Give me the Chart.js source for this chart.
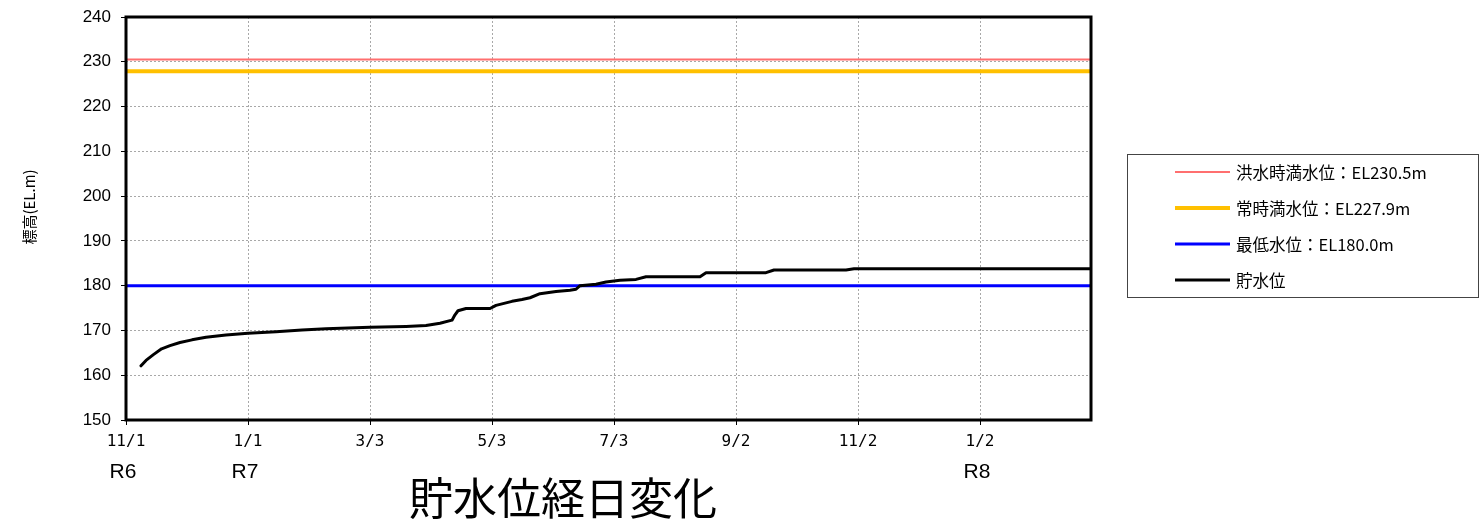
<!DOCTYPE html>
<html>
<head>
<meta charset="utf-8">
<script src="https://cdn.jsdelivr.net/npm/chart.js@4/dist/chart.umd.min.js"></script>
<style>
html,body{margin:0;padding:0;background:#fff;}
#wrap{width:1483px;height:523px;position:relative;}
</style>
</head>
<body>
<div id="wrap"><canvas id="c" width="1483" height="523"></canvas></div>
<script>
// ---- data ----
const chartTitle = '貯水位経日変化';
const yAxisTitle = '標高(EL.m)';
const tickDays = [0, 61, 122, 183, 244, 305, 366, 427];
const tickLabels = ['11/1', '1/1', '3/3', '5/3', '7/3', '9/2', '11/2', '1/2'];
const eraLabels = ['R6', 'R7', '', '', '', '', '', 'R8'];
const xMaxDay = 482.5;
const yTicksMin = 150, yTicksMax = 240, yStep = 10;

const seriesNames = ['洪水時満水位：EL230.5m', '常時満水位：EL227.9m', '最低水位：EL180.0m', '貯水位'];
const floodLevel = 230.5;
const normalLevel = 227.9;
const minLevel = 180.0;

const storageDays = [7.5, 10, 13.7, 17.8, 22, 27, 33, 40, 50, 61, 75, 88, 100, 122, 140, 150, 157, 163, 164.5, 166, 170, 182, 185, 193, 198, 202, 207, 215, 222, 225, 227, 235, 240, 247, 255, 260, 287, 290, 320, 324, 360, 364, 482.5];
const storageLevels = [162.1, 163.3, 164.6, 165.9, 166.6, 167.3, 167.9, 168.5, 169.0, 169.4, 169.7, 170.1, 170.4, 170.7, 170.9, 171.1, 171.6, 172.3, 173.5, 174.4, 174.9, 174.9, 175.6, 176.5, 176.9, 177.3, 178.2, 178.7, 179.0, 179.2, 180.0, 180.3, 180.8, 181.2, 181.4, 182.0, 182.0, 182.9, 182.9, 183.5, 183.5, 183.8, 183.8];

// ---- styles ----
const colors = ['#ff6f6f', '#ffc000', '#0000ff', '#000000'];
const widths = [2, 4, 3, 3];

function flat(v) { return [{x: 0, y: v}, {x: xMaxDay, y: v}]; }
const storagePts = storageDays.map((d, i) => ({x: d, y: storageLevels[i]}));

const extrasPlugin = {
  id: 'extras',
  afterDatasetsDraw(chart) {
    const ctx = chart.ctx, a = chart.chartArea;
    ctx.save();
    ctx.strokeStyle = '#000';
    ctx.lineWidth = 3;
    ctx.strokeRect(a.left, a.top, a.right - a.left, a.bottom - a.top);
    ctx.restore();
  },
  afterDraw(chart) {
    const ctx = chart.ctx;
    const xs = chart.scales.x;
    ctx.save();
    // era labels
    ctx.fillStyle = '#000';
    ctx.font = '21px "Liberation Sans", Arial, sans-serif';
    ctx.textAlign = 'center';
    ctx.textBaseline = 'middle';
    tickDays.forEach((d, i) => {
      if (eraLabels[i]) ctx.fillText(eraLabels[i], xs.getPixelForValue(d) - 3, 472);
    });
    // chart title
    ctx.font = '44px "Noto Sans CJK JP", sans-serif';
    ctx.fillText(chartTitle, 563, 498);
    // y axis title
    ctx.save();
    ctx.translate(29, 207);
    ctx.rotate(-Math.PI / 2);
    ctx.font = '15px "Noto Sans CJK JP", sans-serif';
    ctx.fillText(yAxisTitle, 0, 0);
    ctx.restore();
    // legend
    ctx.strokeStyle = '#444';
    ctx.lineWidth = 1;
    ctx.strokeRect(1127.5, 154.5, 351, 143);
    const rows = [172, 208, 244, 280];
    ctx.textAlign = 'left';
    ctx.font = '16.5px "Noto Sans CJK JP", sans-serif';
    seriesNames.forEach((n, i) => {
      ctx.strokeStyle = colors[i];
      ctx.lineWidth = widths[i];
      ctx.beginPath();
      ctx.moveTo(1175, rows[i]);
      ctx.lineTo(1230, rows[i]);
      ctx.stroke();
      ctx.fillStyle = '#000';
      ctx.fillText(n, 1236, rows[i] + 1);
    });
    ctx.restore();
  }
};

new Chart(document.getElementById('c'), {
  type: 'line',
  data: {
    datasets: [
      {label: seriesNames[3], data: storagePts, borderColor: colors[3], borderWidth: widths[3], pointRadius: 0, tension: 0, borderJoinStyle: 'round', borderCapStyle: 'round'},
      {label: seriesNames[2], data: flat(minLevel), borderColor: colors[2], borderWidth: widths[2], pointRadius: 0},
      {label: seriesNames[1], data: flat(normalLevel), borderColor: colors[1], borderWidth: widths[1], pointRadius: 0},
      {label: seriesNames[0], data: flat(floodLevel), borderColor: colors[0], borderWidth: widths[0], pointRadius: 0}
    ]
  },
  options: {
    responsive: false,
    animation: false,
    layout: {padding: {top: 17, right: 392, left: 0, bottom: 0}},
    plugins: {legend: {display: false}, tooltip: {enabled: false}, title: {display: false}},
    scales: {
      x: {
        type: 'linear',
        min: 0, max: xMaxDay,
        afterBuildTicks(s) { s.ticks = tickDays.map(v => ({value: v})); },
        afterFit(s) { s.height = 103; s.paddingLeft = 0; s.paddingRight = 0; },
        grid: {color: '#a8a8a8', lineWidth: 1, tickLength: 5, tickColor: '#000', tickWidth: 1, tickBorderDash: []},
        border: {display: false, dash: [2, 2]},
        ticks: {
          autoSkip: false, maxRotation: 0, padding: 7, color: '#000',
          font: {family: '"DejaVu Sans Mono", monospace', size: 16},
          callback(v) { const i = tickDays.indexOf(v); return i >= 0 ? tickLabels[i] : ''; }
        }
      },
      y: {
        min: yTicksMin, max: yTicksMax,
        afterFit(s) { s.width = 126; s.paddingTop = 0; s.paddingBottom = 0; },
        grid: {color: '#a8a8a8', lineWidth: 1, tickLength: 5, tickColor: '#000', tickWidth: 1, tickBorderDash: []},
        border: {display: false, dash: [2, 2]},
        ticks: {stepSize: yStep, padding: 10, color: '#000', font: {family: '"Liberation Sans", Arial, sans-serif', size: 17}}
      }
    }
  },
  plugins: [extrasPlugin]
});
</script>
</body>
</html>
